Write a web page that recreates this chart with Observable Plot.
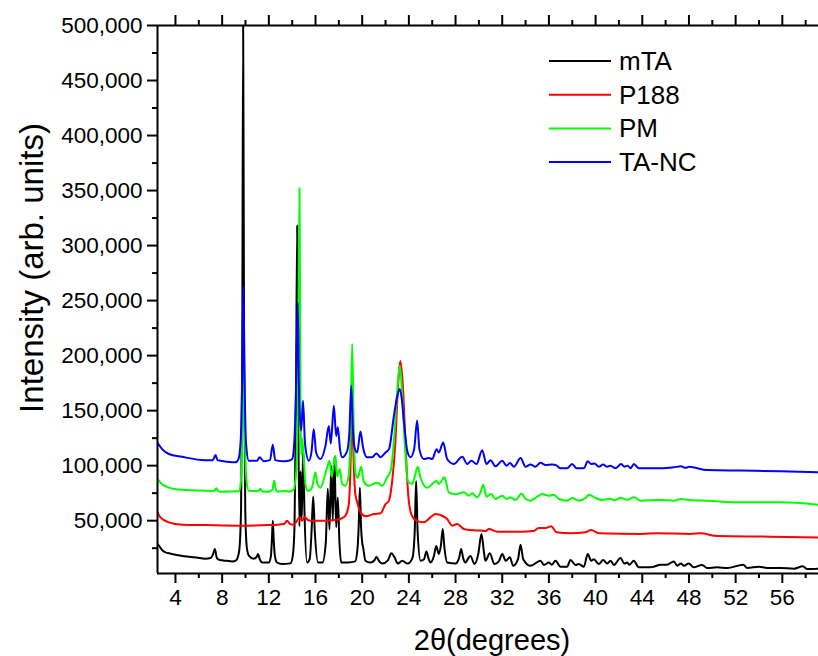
<!DOCTYPE html>
<html>
<head>
<meta charset="utf-8">
<script src="https://cdn.jsdelivr.net/npm/d3@7"></script>
<script src="https://cdn.jsdelivr.net/npm/@observablehq/plot@0.6"></script>
<style>
  html, body { margin: 0; padding: 0; background: #fff; }
  #chart { width: 818px; height: 656px; overflow: hidden; }
</style>
</head>
<body>
<div id="chart"></div>
<script>
// ---- data (2θ in degrees, intensity in arb. units) ----
const seriesNames = ["mTA", "P188", "PM", "TA-NC"];
const seriesColors = ["#000000", "#ff0000", "#00ff00", "#0000ff"];

const mTA = [[2.45,28800],[2.6,27000],[2.8,24000],[3.14,21200],[3.6,20000],[4.0,19000],[4.6,18000],[5.14,17300],[5.8,16500],[6.57,15500],[7.0,16000],[7.2,19000],[7.37,24200],[7.55,16000],[7.8,14200],[8.4,13500],[8.86,13000],[9.2,14000],[9.45,22000],[9.62,60000],[9.72,200000],[9.8,500000],[9.88,200000],[9.98,60000],[10.12,25000],[10.3,18000],[10.7,15500],[10.95,17000],[11.08,19700],[11.22,15000],[11.43,12000],[12.0,12000],[12.18,18000],[12.26,32000],[12.34,50000],[12.42,32000],[12.52,18000],[12.7,12000],[13.14,10600],[13.85,11200],[14.05,18000],[14.2,45000],[14.32,150000],[14.43,318000],[14.52,150000],[14.62,45000],[14.72,95000],[14.8,50000],[14.88,80000],[14.95,117000],[15.05,60000],[15.28,12000],[15.5,15000],[15.66,40000],[15.8,72000],[15.94,40000],[16.23,12000],[16.6,12000],[16.88,30000],[17.05,79000],[17.2,42000],[17.35,100000],[17.48,50000],[17.62,108000],[17.77,44000],[17.91,71000],[18.05,30000],[18.2,12000],[18.8,12000],[19.4,13000],[19.6,25000],[19.7,45000],[19.8,80000],[19.9,45000],[20.0,30000],[20.08,25700],[20.28,13600],[20.7,12000],[21.05,14000],[21.22,17300],[21.4,14000],[21.71,11000],[22.2,14000],[22.5,20300],[22.77,16700],[23.05,11000],[23.43,13600],[23.9,11000],[24.3,16000],[24.5,40000],[24.62,86000],[24.75,40000],[25.0,13600],[25.3,15000],[25.5,22000],[25.7,15000],[25.85,12000],[26.15,18000],[26.34,27000],[26.57,19700],[26.75,28000],[26.9,42400],[27.05,25000],[27.28,12000],[27.99,11000],[28.3,16000],[28.48,24200],[28.65,16000],[28.85,12000],[29.1,16000],[29.28,18000],[29.62,10600],[29.95,20000],[30.22,38000],[30.45,20000],[30.56,13600],[30.93,20300],[31.33,10600],[31.7,13000],[32.0,19700],[32.3,13600],[32.65,16700],[32.94,9000],[33.35,15000],[33.57,28200],[33.8,15000],[34.42,9000],[35.28,13600],[35.57,9800],[36.0,12000],[36.25,10000],[36.56,13600],[36.99,8200],[37.56,8200],[37.85,14200],[38.28,9800],[38.56,10600],[38.99,8200],[39.33,19700],[39.62,13600],[39.85,15000],[40.27,10600],[40.65,14200],[41.0,11000],[41.28,13600],[41.57,9800],[42.13,16000],[42.47,11000],[42.7,12000],[42.9,10000],[43.27,13600],[43.7,7600],[44.7,7600],[45.0,8200],[45.56,10000],[46.13,10000],[46.7,13000],[47.0,9000],[47.33,11200],[47.56,9000],[47.99,11200],[48.4,7600],[49.13,9700],[49.56,7000],[50.42,7600],[51.28,7000],[52.65,10000],[53.0,7000],[53.99,8200],[54.7,7000],[55.85,7000],[57.0,6400],[57.76,8500],[58.13,6000],[59.1,6400]];

const P188 = [[2.45,57500],[2.71,53000],[3.43,48500],[4.57,46400],[6.57,46000],[9.43,45500],[12.0,46000],[13.3,47000],[13.57,50000],[13.8,47000],[14.0,46400],[14.3,48000],[14.63,53000],[14.86,50000],[15.08,53600],[15.3,51000],[15.57,50000],[16.5,50000],[17.5,50500],[18.14,51500],[18.57,54500],[18.85,65000],[19.0,100000],[19.12,160000],[19.22,120000],[19.4,75000],[19.62,65000],[19.85,57500],[20.3,54000],[21.0,56000],[21.57,56700],[22.0,65000],[22.28,68000],[22.57,86000],[22.85,122700],[23.05,168000],[23.28,195000],[23.51,168000],[23.7,122700],[23.9,80000],[24.2,56000],[24.57,50600],[25.28,48500],[25.85,53000],[26.28,56000],[26.85,54500],[27.28,51500],[27.71,45500],[28.14,47000],[28.71,42400],[29.28,41500],[30.14,41000],[30.6,40600],[30.85,42400],[31.57,40000],[33.57,40000],[34.7,40600],[35.13,43300],[35.7,43300],[36.2,45000],[36.65,39400],[37.85,38500],[39.13,39400],[39.62,41500],[40.28,38500],[43.85,38000],[45.28,38500],[48.1,38000],[49.0,38500],[50.42,36000],[55.0,35500],[59.1,34800]];

const PM = [[2.45,88000],[2.86,83000],[3.43,80000],[4.57,78000],[6.57,77300],[7.3,77000],[7.51,79400],[7.7,76500],[8.0,76400],[9.43,76700],[9.6,85000],[9.72,130000],[9.85,210000],[9.97,120000],[10.1,85000],[10.28,77300],[11.1,77000],[11.28,79000],[11.45,76500],[12.0,76400],[12.3,78000],[12.46,86400],[12.6,78000],[12.74,76400],[13.4,77000],[13.7,76400],[14.1,78000],[14.35,95000],[14.5,180000],[14.63,352000],[14.72,140000],[14.78,110000],[14.85,125000],[15.0,105000],[15.15,82000],[15.35,77000],[15.7,80000],[15.85,88000],[16.0,94000],[16.15,84000],[16.42,80000],[17.0,98500],[17.2,104500],[17.37,90000],[17.55,100000],[17.71,109000],[17.85,90000],[18.08,97000],[18.28,83400],[18.57,81800],[18.85,91600],[19.0,130000],[19.14,210600],[19.28,130000],[19.43,92500],[19.62,89000],[19.91,99000],[20.14,85500],[20.57,81800],[21.28,84800],[21.71,81800],[22.14,89400],[22.43,95000],[22.7,120000],[22.95,160000],[23.22,191000],[23.45,160000],[23.65,120000],[23.9,86000],[24.28,83400],[24.5,90000],[24.76,99000],[25.0,89000],[25.57,80000],[26.37,86000],[26.57,83400],[27.05,89400],[27.42,75800],[27.99,74000],[28.71,75800],[29.14,72700],[29.42,75000],[29.85,71200],[30.15,76000],[30.37,82700],[30.65,71800],[31.05,74300],[31.42,69700],[32.0,72700],[32.37,69700],[32.71,71200],[33.14,68800],[33.65,74800],[34.0,69700],[34.42,68200],[35.0,71800],[35.42,74300],[36.0,72700],[36.42,73600],[36.85,69700],[37.56,68200],[38.0,70600],[38.56,68200],[39.14,70600],[39.42,73600],[40.0,70600],[40.56,68800],[40.85,69400],[41.3,70000],[41.6,68500],[42.13,70600],[42.7,69000],[43.28,71200],[43.85,68200],[45.56,68800],[46.7,68200],[47.33,69700],[48.0,68800],[49.56,68200],[52.42,66700],[55.85,66700],[59.1,64500]];

const TANC = [[2.45,121000],[2.86,115000],[3.43,110600],[4.57,108000],[6.57,105000],[7.2,105000],[7.43,109700],[7.6,105000],[7.86,104500],[9.14,103000],[9.4,106000],[9.6,125000],[9.72,180000],[9.82,263000],[9.93,170000],[10.05,120000],[10.28,104500],[11.0,104500],[11.2,107600],[11.57,104000],[12.1,105000],[12.34,119000],[12.55,105000],[13.14,104000],[13.7,104500],[14.0,106000],[14.2,125000],[14.35,180000],[14.48,248000],[14.6,160000],[14.77,132000],[14.93,159000],[15.1,120000],[15.43,104500],[15.65,112000],[15.85,133000],[16.05,112000],[16.42,106000],[16.85,118000],[17.14,136000],[17.31,120000],[17.57,154500],[17.77,127000],[17.91,135000],[18.1,115000],[18.28,107600],[18.7,113000],[18.9,130000],[19.06,172700],[19.2,135000],[19.35,116000],[19.57,112000],[19.85,131000],[20.08,116000],[20.42,107600],[20.85,107600],[21.22,111000],[21.57,107600],[22.0,112000],[22.3,115000],[22.7,144000],[23.0,163000],[23.22,169700],[23.4,160000],[23.57,141000],[23.85,114000],[24.14,107600],[24.45,115000],[24.71,141000],[24.9,115000],[25.28,106000],[25.71,107000],[26.0,106000],[26.37,115000],[26.57,112000],[26.94,121000],[27.28,106000],[27.85,101500],[28.57,108000],[29.0,101500],[29.35,104500],[29.8,101500],[30.28,114000],[30.65,101500],[31.0,105000],[31.42,99400],[32.0,104500],[32.37,100000],[32.66,102400],[33.0,99000],[33.57,107000],[34.0,99000],[34.42,101000],[34.85,99000],[35.28,102700],[35.71,100600],[36.28,101000],[36.6,100500],[37.0,97600],[37.56,97600],[37.99,101500],[38.37,97600],[38.99,97600],[39.33,103900],[39.62,101500],[39.9,102000],[40.28,99000],[40.65,101000],[41.0,99000],[41.28,100000],[41.71,97600],[42.19,101500],[42.47,99000],[42.75,100000],[43.0,97600],[43.28,101500],[43.7,97600],[45.56,97600],[46.7,98500],[47.33,99400],[47.7,98000],[48.0,99000],[49.56,96000],[52.42,95500],[55.85,95000],[59.1,94000]];

const xDomain = [2.46, 59.1];
const yDomain = [2000, 500000];
const xMajorTicks = [4, 8, 12, 16, 20, 24, 28, 32, 36, 40, 44, 48, 52, 56];
const xMinorTicks = [6, 10, 14, 18, 22, 26, 30, 34, 38, 42, 46, 50, 54, 58];
const yMajorTicks = [50000, 100000, 150000, 200000, 250000, 300000, 350000, 400000, 450000, 500000];
const yMinorTicks = [25000, 75000, 125000, 175000, 225000, 275000, 325000, 375000, 425000, 475000];
const xLabel = "2θ(degrees)";
const yLabel = "Intensity (arb. units)";

// ---- chart ----
const allSeries = [mTA, P188, PM, TANC];
const FONT = "'Liberation Sans', Arial, Helvetica, sans-serif";
const none = () => "";

const lineMarks = allSeries.map((s, i) =>
  Plot.line(s, {x: d => d[0], y: d => d[1], stroke: seriesColors[i], strokeWidth: 2, curve: "monotone-x", clip: true})
);

const plot = Plot.plot({
  width: 818,
  height: 656,
  marginLeft: 157,
  marginRight: 0,
  marginTop: 25,
  marginBottom: 83,
  style: {fontFamily: FONT, fontSize: "22px", color: "#000", background: "#fff", overflow: "visible"},
  x: {domain: xDomain},
  y: {domain: yDomain},
  marks: [
    ...lineMarks,
    Plot.axisX(xMajorTicks, {anchor: "bottom", tickSize: 10, tickPadding: 6, strokeWidth: 2, label: null, fontSize: 22.5}),
    Plot.axisX(xMinorTicks, {anchor: "bottom", tickSize: 5, strokeWidth: 2, tickFormat: none, label: null}),
    Plot.axisX(xMajorTicks, {anchor: "top", tickSize: 11, strokeWidth: 2, tickFormat: none, label: null}),
    Plot.axisX(xMinorTicks, {anchor: "top", tickSize: 6, strokeWidth: 2, tickFormat: none, label: null}),
    Plot.axisY(yMajorTicks, {anchor: "left", tickSize: 10, tickPadding: 5, strokeWidth: 2, tickFormat: d3.format(","), label: null, fontSize: 22.5}),
    Plot.axisY(yMinorTicks, {anchor: "left", tickSize: 5, strokeWidth: 2, tickFormat: none, label: null}),
    Plot.ruleX([xDomain[0]], {stroke: "#000", strokeWidth: 2}),
    Plot.ruleY(yDomain, {stroke: "#000", strokeWidth: 2})
  ]
});

document.getElementById("chart").appendChild(plot);

// axis titles and legend as real SVG text
const svg = d3.select(plot);
svg.append("text")
  .attr("x", 492).attr("y", 650)
  .attr("text-anchor", "middle")
  .attr("font-family", FONT).attr("font-size", 29)
  .attr("fill", "#000")
  .text(xLabel);
svg.append("text")
  .attr("transform", "translate(43,268) rotate(-90)")
  .attr("text-anchor", "middle")
  .attr("font-family", FONT).attr("font-size", 33)
  .attr("fill", "#000")
  .text(yLabel);

const legend = svg.append("g").attr("text-anchor", "start");
seriesNames.forEach((name, i) => {
  const y = 61 + i * 33.7;
  legend.append("line")
    .attr("x1", 549).attr("x2", 611).attr("y1", y).attr("y2", y)
    .attr("stroke", seriesColors[i]).attr("stroke-width", 2);
  legend.append("text")
    .attr("x", 619).attr("y", y + 9)
    .attr("text-anchor", "start")
    .attr("font-family", FONT).attr("font-size", 26)
    .attr("fill", "#000")
    .text(name);
});
</script>
</body>
</html>
